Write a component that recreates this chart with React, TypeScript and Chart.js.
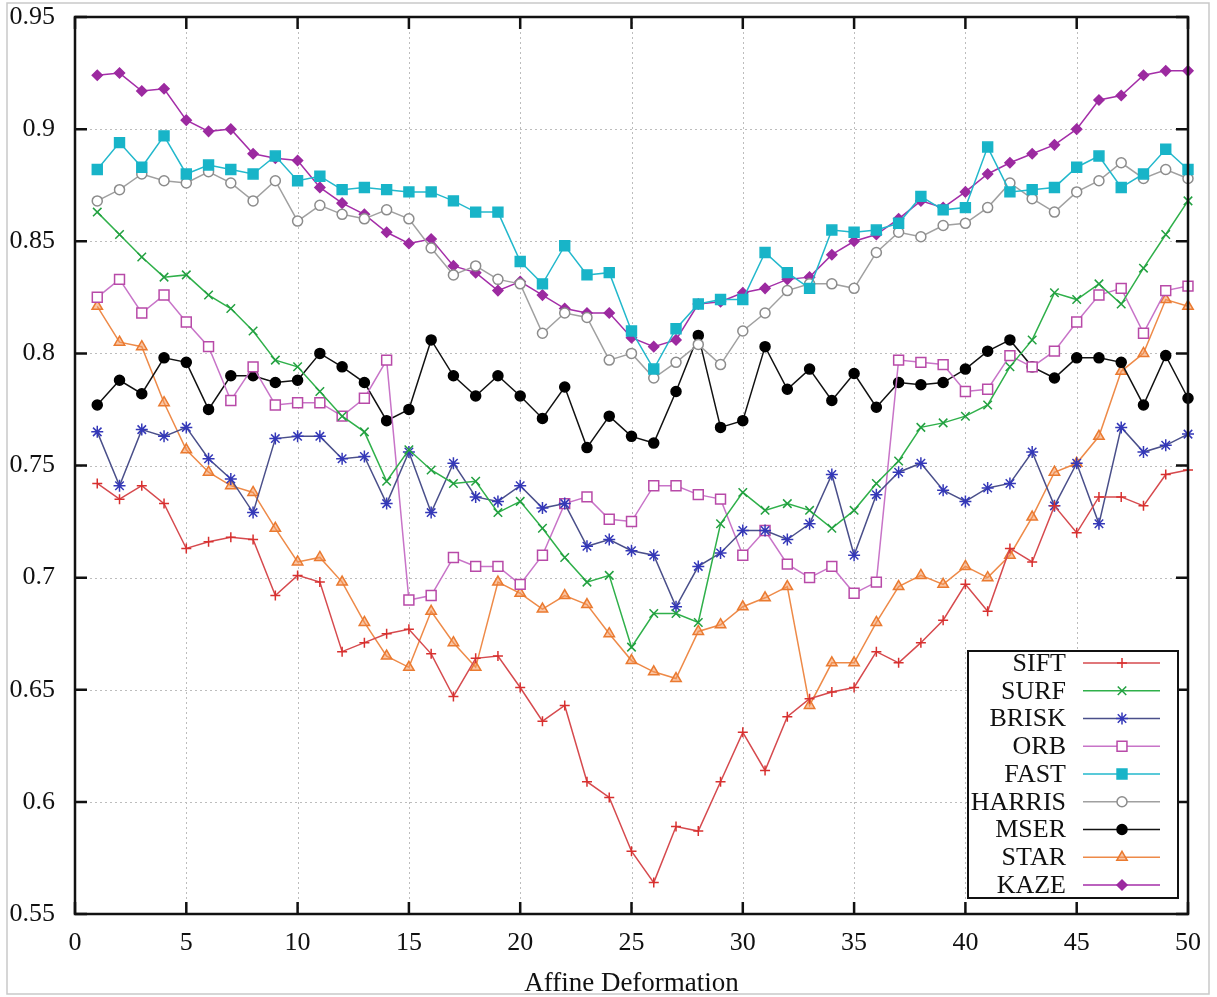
import React, { useEffect, useRef } from "react";
import { Chart, registerables } from "chart.js";
import { drawPoint } from "chart.js/helpers";

Chart.register(...registerables);

const xValues = [1,2,3,4,5,6,7,8,9,10,11,12,13,14,15,16,17,18,19,20,21,22,23,24,25,26,27,28,29,30,31,32,33,34,35,36,37,38,39,40,41,42,43,44,45,46,47,48,49,50];

const siftValues = [0.742,0.735,0.741,0.733,0.713,0.716,0.718,0.717,0.692,0.701,0.698,0.667,0.671,0.675,0.677,0.666,0.647,0.664,0.665,0.651,0.636,0.643,0.609,0.602,0.578,0.564,0.589,0.587,0.609,0.631,0.614,0.638,0.646,0.649,0.651,0.667,0.662,0.671,0.681,0.697,0.685,0.713,0.707,0.732,0.720,0.736,0.736,0.732,0.746,0.748];
const surfValues = [0.863,0.853,0.843,0.834,0.835,0.826,0.820,0.810,0.797,0.794,0.783,0.772,0.765,0.743,0.757,0.748,0.742,0.743,0.729,0.734,0.722,0.709,0.698,0.701,0.669,0.684,0.684,0.680,0.724,0.738,0.730,0.733,0.730,0.722,0.730,0.742,0.752,0.767,0.769,0.772,0.777,0.794,0.806,0.827,0.824,0.831,0.822,0.838,0.853,0.868];
const briskValues = [0.765,0.741,0.766,0.763,0.767,0.753,0.744,0.729,0.762,0.763,0.763,0.753,0.754,0.733,0.756,0.729,0.751,0.736,0.734,0.741,0.731,0.733,0.714,0.717,0.712,0.710,0.687,0.705,0.711,0.721,0.721,0.717,0.724,0.746,0.710,0.737,0.747,0.751,0.739,0.734,0.740,0.742,0.756,0.732,0.751,0.724,0.767,0.756,0.759,0.764];
const orbValues = [0.825,0.833,0.818,0.826,0.814,0.803,0.779,0.794,0.777,0.778,0.778,0.772,0.780,0.797,0.690,0.692,0.709,0.705,0.705,0.697,0.710,0.733,0.736,0.726,0.725,0.741,0.741,0.737,0.735,0.710,0.721,0.706,0.700,0.705,0.693,0.698,0.797,0.796,0.795,0.783,0.784,0.799,0.794,0.801,0.814,0.826,0.829,0.809,0.828,0.830];
const fastValues = [0.882,0.894,0.883,0.897,0.880,0.884,0.882,0.880,0.888,0.877,0.879,0.873,0.874,0.873,0.872,0.872,0.868,0.863,0.863,0.841,0.831,0.848,0.835,0.836,0.810,0.793,0.811,0.822,0.824,0.824,0.845,0.836,0.829,0.855,0.854,0.855,0.858,0.870,0.864,0.865,0.892,0.872,0.873,0.874,0.883,0.888,0.874,0.880,0.891,0.882];
const harrisValues = [0.868,0.873,0.880,0.877,0.876,0.881,0.876,0.868,0.877,0.859,0.866,0.862,0.860,0.864,0.860,0.847,0.835,0.839,0.833,0.831,0.809,0.818,0.816,0.797,0.800,0.789,0.796,0.804,0.795,0.810,0.818,0.828,0.831,0.831,0.829,0.845,0.854,0.852,0.857,0.858,0.865,0.876,0.869,0.863,0.872,0.877,0.885,0.878,0.882,0.878];
const mserValues = [0.777,0.788,0.782,0.798,0.796,0.775,0.790,0.790,0.787,0.788,0.800,0.794,0.787,0.770,0.775,0.806,0.790,0.781,0.790,0.781,0.771,0.785,0.758,0.772,0.763,0.760,0.783,0.808,0.767,0.770,0.803,0.784,0.793,0.779,0.791,0.776,0.787,0.786,0.787,0.793,0.801,0.806,0.794,0.789,0.798,0.798,0.796,0.777,0.799,0.780];
const starValues = [0.821,0.805,0.803,0.778,0.757,0.747,0.741,0.738,0.722,0.707,0.709,0.698,0.680,0.665,0.660,0.685,0.671,0.660,0.698,0.693,0.686,0.692,0.688,0.675,0.663,0.658,0.655,0.676,0.679,0.687,0.691,0.696,0.643,0.662,0.662,0.680,0.696,0.701,0.697,0.705,0.700,0.710,0.727,0.747,0.751,0.763,0.792,0.800,0.824,0.821];
const kazeValues = [0.924,0.925,0.917,0.918,0.904,0.899,0.900,0.889,0.887,0.886,0.874,0.867,0.862,0.854,0.849,0.851,0.839,0.836,0.828,0.832,0.826,0.820,0.818,0.818,0.807,0.803,0.806,0.822,0.823,0.827,0.829,0.833,0.834,0.844,0.850,0.853,0.860,0.868,0.865,0.872,0.880,0.885,0.889,0.893,0.900,0.913,0.915,0.924,0.926,0.926];

const seriesNames = ["SIFT", "SURF", "BRISK", "ORB", "FAST", "HARRIS", "MSER", "STAR", "KAZE"];
const yTickValues = [0.55, 0.6, 0.65, 0.7, 0.75, 0.8, 0.85, 0.9, 0.95];
const yTickLabels = ["0.55", "0.6", "0.65", "0.7", "0.75", "0.8", "0.85", "0.9", "0.95"];
const xTickValues = [0, 5, 10, 15, 20, 25, 30, 35, 40, 45, 50];
const xTickLabels = ["0", "5", "10", "15", "20", "25", "30", "35", "40", "45", "50"];
const xTitle = "Affine Deformation";

const FONT = "'Liberation Serif', 'Times New Roman', serif";

type Style = {
  line: string;
  marker: string;
  fill: string;
  pointStyle: string;
  radius: number;
};

const styles: Style[] = [
  { line: "#d64a4e", marker: "#d8302f", fill: "#d8302f", pointStyle: "cross", radius: 5 },
  { line: "#2fb04a", marker: "#22a040", fill: "#22a040", pointStyle: "crossRot", radius: 6 },
  { line: "#4a4f8a", marker: "#3438b8", fill: "#3438b8", pointStyle: "star", radius: 6 },
  { line: "#c874c8", marker: "#b84aa8", fill: "#ffffff", pointStyle: "rect", radius: 7 },
  { line: "#22b8cc", marker: "#18b4c8", fill: "#18b4c8", pointStyle: "rect", radius: 7 },
  { line: "#a0a0a0", marker: "#8c8c8c", fill: "#ffffff", pointStyle: "circle", radius: 5 },
  { line: "#111111", marker: "#000000", fill: "#000000", pointStyle: "circle", radius: 5 },
  { line: "#ee8a48", marker: "#ea7a30", fill: "rgba(244,150,90,0.55)", pointStyle: "triangle", radius: 6 },
  { line: "#a42ea8", marker: "#9c2aa0", fill: "#9c2aa0", pointStyle: "rectRot", radius: 5 },
];

const seriesValues = [siftValues, surfValues, briskValues, orbValues, fastValues, harrisValues, mserValues, starValues, kazeValues];

const framePlugin = {
  id: "framePlugin",
  beforeDraw(chart: any) {
    const ctx = chart.ctx;
    ctx.save();
    ctx.fillStyle = "#ffffff";
    ctx.fillRect(0, 0, chart.width, chart.height);
    ctx.strokeStyle = "#c9c9c9";
    ctx.lineWidth = 1.5;
    ctx.strokeRect(7, 3, 1202, 991);
    ctx.restore();
  },
  beforeDatasetsDraw(chart: any) {
    const ctx = chart.ctx;
    const ca = chart.chartArea;
    const xs = chart.scales.x;
    const ys = chart.scales.y;
    ctx.save();
    ctx.strokeStyle = "#bdbdbd";
    ctx.lineWidth = 1;
    ctx.setLineDash([2, 3]);
    xTickValues.forEach((v) => {
      const px = Math.round(xs.getPixelForValue(v)) + 0.5;
      if (px <= ca.left + 2 || px >= ca.right - 2) return;
      ctx.beginPath();
      ctx.moveTo(px, ca.top);
      ctx.lineTo(px, ca.bottom);
      ctx.stroke();
    });
    yTickValues.forEach((v) => {
      const py = Math.round(ys.getPixelForValue(v)) + 0.5;
      if (py <= ca.top + 2 || py >= ca.bottom - 2) return;
      ctx.beginPath();
      ctx.moveTo(ca.left, py);
      ctx.lineTo(ca.right, py);
      ctx.stroke();
    });
    ctx.restore();
  },
  afterDatasetsDraw(chart: any) {
    const ctx = chart.ctx;
    const ca = chart.chartArea;
    const xs = chart.scales.x;
    const ys = chart.scales.y;
    ctx.save();
    ctx.setLineDash([]);
    ctx.strokeStyle = "#111111";
    ctx.lineWidth = 2.5;
    ctx.strokeRect(ca.left, ca.top, ca.right - ca.left, ca.bottom - ca.top);
    const tl = 12;
    ctx.beginPath();
    xTickValues.forEach((v) => {
      const px = xs.getPixelForValue(v);
      ctx.moveTo(px, ca.bottom);
      ctx.lineTo(px, ca.bottom - tl);
      ctx.moveTo(px, ca.top);
      ctx.lineTo(px, ca.top + tl);
    });
    yTickValues.forEach((v) => {
      const py = ys.getPixelForValue(v);
      ctx.moveTo(ca.left, py);
      ctx.lineTo(ca.left + tl, py);
      ctx.moveTo(ca.right, py);
      ctx.lineTo(ca.right - tl, py);
    });
    ctx.stroke();

    // legend
    const boxL = ca.right - 220;
    const boxR = ca.right - 10;
    const boxT = ca.bottom - 263;
    const boxB = ca.bottom - 16;
    ctx.fillStyle = "#ffffff";
    ctx.fillRect(boxL, boxT, boxR - boxL, boxB - boxT);
    ctx.lineWidth = 2;
    ctx.strokeStyle = "#111111";
    ctx.strokeRect(boxL, boxT, boxR - boxL, boxB - boxT);
    const textR = ca.right - 122;
    const lineL = ca.right - 105;
    const lineR = ca.right - 28;
    const markX = ca.right - 66;
    const row0 = boxT + 12;
    const rowH = 27.75;
    ctx.font = `26px ${FONT}`;
    ctx.textAlign = "right";
    ctx.textBaseline = "middle";
    seriesNames.forEach((name, i) => {
      const y = row0 + i * rowH;
      const st = styles[i];
      ctx.fillStyle = "#111111";
      ctx.fillText(name, textR, y + 1);
      ctx.strokeStyle = st.line;
      ctx.lineWidth = 1.5;
      ctx.beginPath();
      ctx.moveTo(lineL, y);
      ctx.lineTo(lineR, y);
      ctx.stroke();
      ctx.strokeStyle = st.marker;
      ctx.fillStyle = st.fill;
      ctx.lineWidth = 1.5;
      drawPoint(ctx, { pointStyle: st.pointStyle as any, radius: st.radius, rotation: 0, borderWidth: 1.5 } as any, markX, y);
    });
    ctx.restore();
  },
};

export default function App() {
  const canvasRef = useRef<HTMLCanvasElement | null>(null);

  useEffect(() => {
    if (!canvasRef.current) return;
    const datasets = seriesNames.map((name, i) => {
      const st = styles[i];
      return {
        label: name,
        data: xValues.map((x, j) => ({ x, y: seriesValues[i][j] })),
        borderColor: st.line,
        backgroundColor: st.fill,
        borderWidth: 1.5,
        pointStyle: st.pointStyle as any,
        pointRadius: st.radius,
        pointHoverRadius: st.radius,
        pointBorderColor: st.marker,
        pointBackgroundColor: st.fill,
        pointBorderWidth: 1.5,
        tension: 0,
        fill: false,
        clip: false as any,
      };
    });

    const chart = new Chart(canvasRef.current, {
      type: "line",
      data: { datasets },
      options: {
        animation: false,
        responsive: false,
        maintainAspectRatio: false,
        events: [],
        layout: { padding: { left: 0, top: 0, right: 29, bottom: 0 } },
        plugins: {
          legend: { display: false },
          tooltip: { enabled: false },
          title: { display: false },
        },
        scales: {
          x: {
            type: "linear",
            min: 0,
            max: 50,
            afterBuildTicks: (scale: any) => {
              scale.ticks = xTickValues.map((v) => ({ value: v }));
            },
            afterFit: (scale: any) => {
              scale.height = 83;
            },
            grid: { display: false, drawTicks: false },
            border: { display: false },
            ticks: {
              color: "#111111",
              font: { family: FONT, size: 26 },
              padding: 14,
              maxRotation: 0,
              autoSkip: false,
              callback: (v: any) => {
                const idx = xTickValues.indexOf(Number(v));
                return idx >= 0 ? xTickLabels[idx] : "";
              },
            },
            title: {
              display: true,
              text: xTitle,
              color: "#111111",
              font: { family: FONT, size: 27, lineHeight: 1 },
              padding: { top: 0, bottom: 0 },
            },
          },
          y: {
            type: "linear",
            min: 0.55,
            max: 0.95,
            afterBuildTicks: (scale: any) => {
              scale.ticks = yTickValues.map((v) => ({ value: v }));
            },
            afterFit: (scale: any) => {
              scale.width = 75;
              scale.paddingTop = 17;
            },
            grid: { display: false, drawTicks: false },
            border: { display: false },
            ticks: {
              color: "#111111",
              font: { family: FONT, size: 26 },
              padding: 20,
              autoSkip: false,
              callback: (v: any) => {
                const idx = yTickValues.findIndex((t) => Math.abs(t - Number(v)) < 1e-6);
                return idx >= 0 ? yTickLabels[idx] : "";
              },
            },
          },
        },
      },
      plugins: [framePlugin],
    });

    return () => {
      chart.destroy();
    };
  }, []);

  return (
    <div style={{ position: "absolute", left: 0, top: 0, width: 1217, height: 997, background: "#ffffff" }}>
      <canvas ref={canvasRef} width={1217} height={997} style={{ width: 1217, height: 997, display: "block" }} />
    </div>
  );
}
